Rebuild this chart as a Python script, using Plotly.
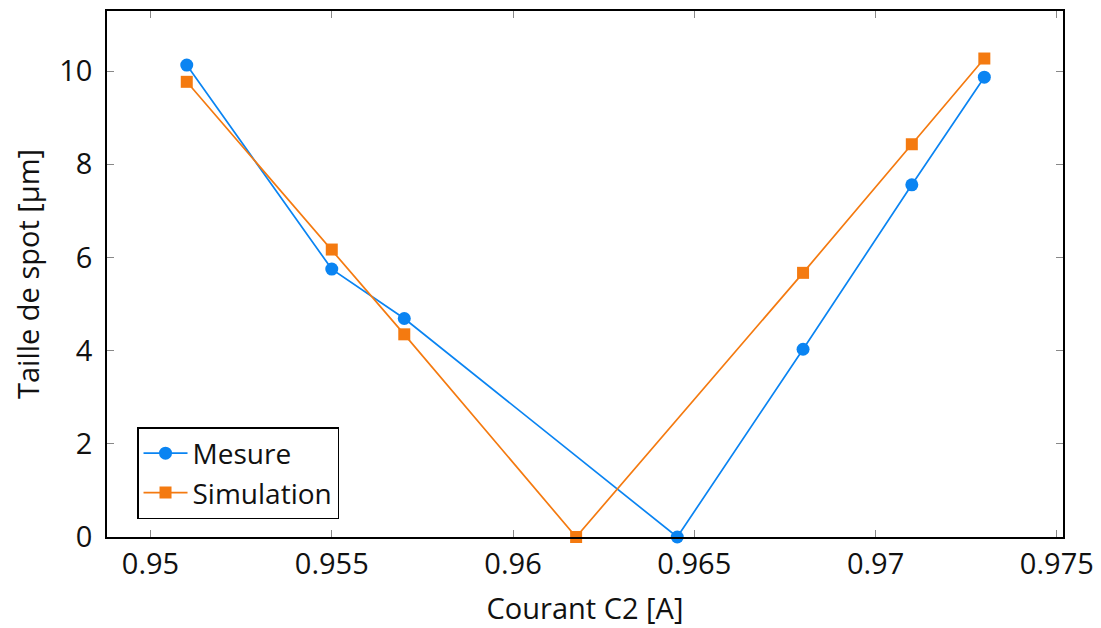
import plotly.graph_objects as go

x_mesure = [0.951, 0.955, 0.957, 0.96453, 0.968, 0.971, 0.973]
y_mesure = [10.13, 5.75, 4.69, 0.0, 4.03, 7.56, 9.87]
x_sim = [0.951, 0.955, 0.957, 0.96174, 0.968, 0.971, 0.973]
y_sim = [9.77, 6.17, 4.35, 0.0, 5.67, 8.43, 10.27]
x_ticks = [0.95, 0.955, 0.96, 0.965, 0.97, 0.975]
x_ticklabels = ["0.95", "0.955", "0.96", "0.965", "0.97", "0.975"]
y_ticks = [0, 2, 4, 6, 8, 10]

BLUE = "#0a84f2"
ORANGE = "#f47a10"
FONT = "Open Sans"
TXT = "#111111"
FS = 29

fig = go.Figure()
fig.add_trace(go.Scatter(x=x_mesure, y=y_mesure, mode="lines+markers", name="Mesure",
                         line=dict(color=BLUE, width=1.7),
                         marker=dict(symbol="circle", size=13, color=BLUE), cliponaxis=False))
fig.add_trace(go.Scatter(x=x_sim, y=y_sim, mode="lines+markers", name="Simulation",
                         line=dict(color=ORANGE, width=1.7),
                         marker=dict(symbol="square", size=12, color=ORANGE), cliponaxis=False))

axis_common = dict(showgrid=False, zeroline=False, showline=True, linecolor="black", linewidth=1.5,
                   mirror="ticks", ticks="inside", ticklen=7, tickcolor="#888888", tickwidth=1,
                   automargin=False,
                   tickfont=dict(family=FONT, size=FS, color=TXT))

fig.update_xaxes(range=[0.9488, 0.97517], tickvals=x_ticks, ticktext=x_ticklabels,
                 title=dict(text="Courant C2 [A]", font=dict(family=FONT, size=FS, color=TXT), standoff=18),
                 **axis_common)
fig.update_yaxes(range=[0, 11.29], tickvals=y_ticks, ticklabelstandoff=7,
                 title=dict(text="Taille de spot [μm]", font=dict(family=FONT, size=FS, color=TXT), standoff=25),
                 **axis_common)

# page body has an 8px margin: shrink the figure so the plot area lands where the reference has it
fig.update_layout(width=1093, height=620, margin=dict(l=99, r=38, t=3, b=91),
                  plot_bgcolor="white", paper_bgcolor="white",
                  legend=dict(x=0.0314, y=0.0342, xanchor="left", yanchor="bottom",
                              bordercolor="black", borderwidth=1.5, bgcolor="white",
                              font=dict(family=FONT, size=28, color=TXT),
                              tracegroupgap=0, itemwidth=44))

fig.write_html("out.html")
